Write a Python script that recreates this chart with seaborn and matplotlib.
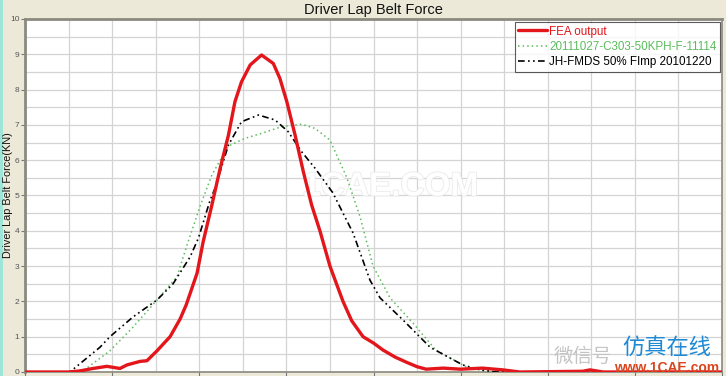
import matplotlib
matplotlib.use("Agg")
import matplotlib.pyplot as plt
import matplotlib.patheffects as pe
import seaborn as sns
import pandas as pd
import numpy as np
from matplotlib.patches import Rectangle

# ---- data (time in ms, force in kN) ----
fea_t = [0, 10, 12.6, 15.6, 18.8, 21.8, 23.4, 26.4, 28, 30.3, 33.3, 35.6, 37, 39.5, 40.9,
         42.9, 44.8, 46.7, 48.2, 49.7, 51.7, 54.3, 57.0, 58.5, 60.1, 62.0, 63.9, 65.8,
         67.7, 70, 73, 75, 77.6, 80, 82.2, 85, 87.5, 90, 92.1, 96, 100, 105, 109.7, 113.6,
         128, 129.7, 132.7, 160]
fea_f = [0, 0, 0.03, 0.1, 0.16, 0.1, 0.2, 0.3, 0.32, 0.6, 1.0, 1.5, 1.9, 2.8, 3.69,
         4.73, 5.77, 6.71, 7.66, 8.22, 8.70, 8.98, 8.74, 8.32, 7.66, 6.71, 5.67, 4.73,
         4.0, 3.0, 2.0, 1.45, 1.0, 0.82, 0.62, 0.42, 0.28, 0.15, 0.08, 0.11, 0.08, 0.11,
         0.06, 0, 0.02, 0.06, 0, 0]

test_t = [0, 13, 19.5, 24.8, 30.3, 34.9, 37.2, 39.0, 40.2, 42.9, 44.8, 46.7, 50.5, 54.3,
          58.9, 63.5, 66.6, 70, 73.9, 76.9, 79.9, 83.8, 89.1, 94.3, 101.2, 104.5, 108, 160]
test_f = [0, 0, 0.6, 1.27, 2.04, 2.7, 3.6, 4.26, 4.7, 5.58, 6.0, 6.4, 6.62, 6.76,
          6.95, 7.02, 6.9, 6.57, 5.5, 4.4, 3.0, 2.1, 1.38, 0.62, 0.15, 0.06, 0, 0]

fmds_t = [0, 10.3, 17.2, 19.5, 24.8, 30.3, 34, 37.9, 39.8, 42.5, 43.6, 46.7, 49.7, 53.6,
          57.4, 60.4, 63.5, 66.6, 70.7, 73, 75.3, 79.2, 81.5, 86.8, 93, 100.5, 104.5,
          108.1, 160]
fmds_f = [0, 0, 0.7, 1.0, 1.56, 2.04, 2.5, 3.26, 3.79, 4.87, 5.2, 6.43, 7.09, 7.28,
          7.14, 6.81, 6.24, 5.77, 5.07, 4.5, 3.94, 2.6, 2.1, 1.47, 0.7, 0.2, 0.06,
          0, 0]

labels = ["FEA output", "20111027-C303-50KPH-F-11114", "JH-FMDS 50% FImp 20101220"]
y_ticks = list(range(0, 11))

sns.set_style("white")
plt.rcParams["font.family"] = ["Liberation Sans", "DejaVu Sans"]

bg = "#ECE9D8"
fig = plt.figure(figsize=(7.26, 3.76), dpi=100, facecolor=bg)
fig.patches.append(Rectangle((0, 0), 3 / 726, 1, transform=fig.transFigure,
                             facecolor="#9FE5D8", edgecolor="none", zorder=0))
ax = fig.add_axes([25 / 726, 4 / 376, 697 / 726, 353 / 376])
ax.set_facecolor("white")

df_fea = pd.DataFrame({"t": fea_t, "f": fea_f})
df_test = pd.DataFrame({"t": test_t, "f": test_f})
df_fmds = pd.DataFrame({"t": fmds_t, "f": fmds_f})

red = "#E3161C"
green = "#5DBB5D"
sns.lineplot(data=df_fea, x="t", y="f", ax=ax, color=red, lw=2.4, label=labels[0],
             zorder=5, sort=False)
sns.lineplot(data=df_test, x="t", y="f", ax=ax, color=green, lw=1.1, label=labels[1],
             zorder=4, sort=False, linestyle=(0, (1, 2)))
sns.lineplot(data=df_fmds, x="t", y="f", ax=ax, color="black", lw=1.2, label=labels[2],
             zorder=4, sort=False, linestyle=(0, (4, 2, 1, 2, 1, 2)))

ax.set_xlim(0, 160)
ax.set_ylim(0, 10)
ax.set_xticks(np.arange(0, 161, 20))
ax.set_xticks(np.arange(0, 161, 10), minor=True)
ax.set_yticks(y_ticks)
ax.set_yticks(np.arange(0, 10.01, 0.5), minor=True)
ax.set_xticklabels([])
ax.set_yticklabels([str(v) for v in y_ticks], fontsize=6, color="#555555")
ax.grid(True, which="both", color="#D4D4D4", lw=0.9)
ax.tick_params(axis="y", which="major", left=True, length=3, width=0.8, color="#777777", pad=1)
ax.tick_params(axis="x", which="major", bottom=True, length=3, color="#777777")
ax.tick_params(which="minor", length=0)
for side, sp in ax.spines.items():
    sp.set_color("#8A8A80")
    sp.set_linewidth(1.2)
ax.spines["top"].set_linewidth(2)
ax.spines["left"].set_linewidth(2)
ax.set_xlabel("")
ax.set_ylabel("")

# faint watermark in the plot
ax.text(0.524, 1 - (187 - 19) / 353, "1CAE.COM", transform=ax.transAxes, ha="center",
        va="center", fontsize=24, fontweight="bold", color="white", zorder=3,
        path_effects=[pe.withStroke(linewidth=1.2, foreground="#EAEAEA")])

fig.text(8 / 726, 1 - 195 / 376, "Driver Lap Belt Force(KN)", rotation=90, ha="center",
         va="center", fontsize=7.8, color="#111111")
fig.text(373 / 726, 1 - 10 / 376, "Driver Lap Belt Force", ha="center", va="center",
         fontsize=10.5, color="#111111")

leg = ax.legend(loc="upper right", bbox_to_anchor=(1.0 - 2 / 697, 1.0 - 3 / 353),
                fontsize=8.4, frameon=True, fancybox=False, handlelength=2.5,
                handletextpad=0.15, borderpad=0.3, labelspacing=0.28, borderaxespad=0)
leg.get_frame().set_edgecolor("#333333")
leg.get_frame().set_linewidth(0.8)
leg.set_zorder(8)
for txt, c in zip(leg.get_texts(), [red, green, "black"]):
    txt.set_color(c)

# watermark texts (bottom right)
cjk = ["Noto Sans CJK SC", "DejaVu Sans"]
fig.text(583 / 726, 1 - 356 / 376, "微信号", ha="center", va="center", fontsize=14,
         color="#C4C4C4", family=cjk, zorder=9)
fig.text(667 / 726, 1 - 348 / 376, "仿真在线", ha="center", va="center", fontsize=16,
         color="#1E8AD6", family=cjk, zorder=10)
fig.text(667 / 726, 1 - 368 / 376, "www.1CAE.com", ha="center", va="center", fontsize=10,
         color="#D9461E", fontweight="bold", zorder=10)

fig.savefig("out.png", dpi=100, facecolor=bg)
